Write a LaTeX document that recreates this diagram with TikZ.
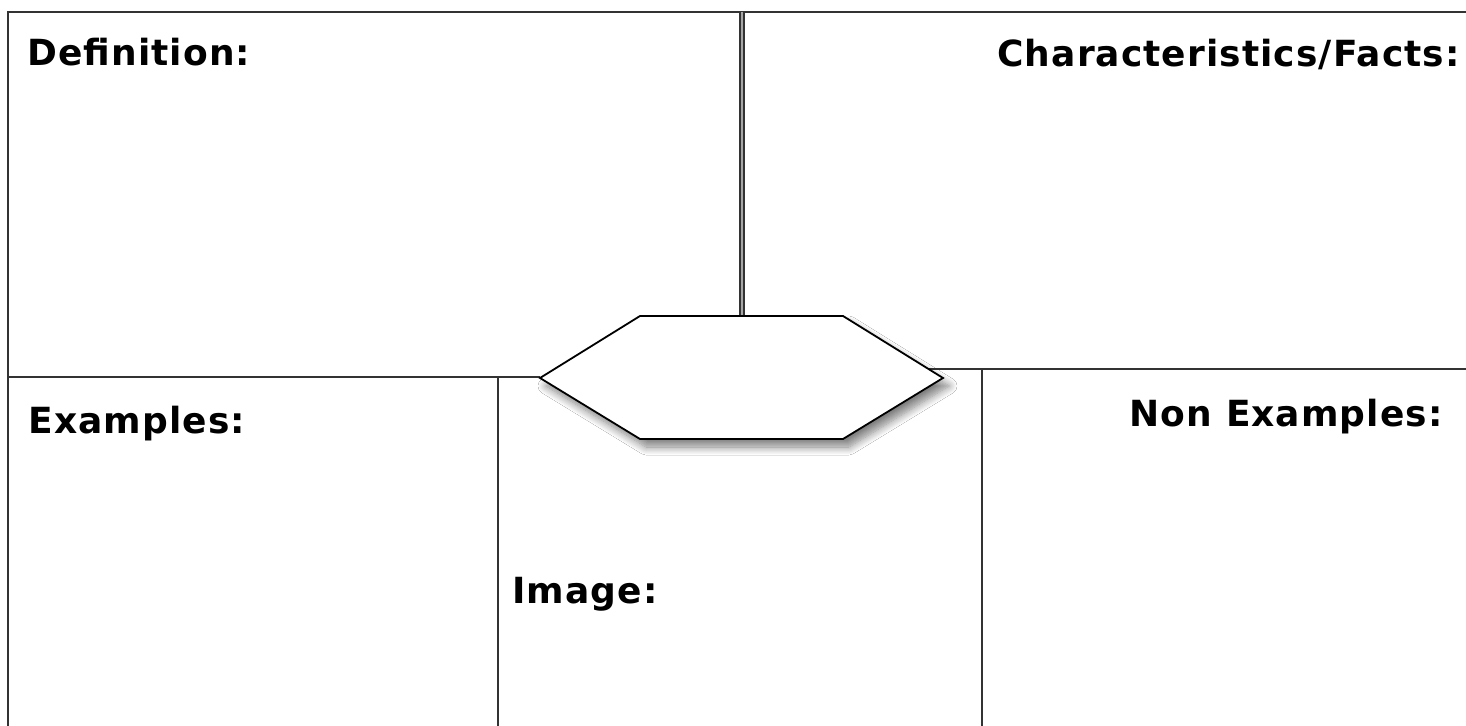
\documentclass[tikz,border=0pt]{standalone}
\usepackage{fontspec}
\newfontfamily\labfont[LetterSpace=3]{DejaVu Sans Bold}
\usetikzlibrary{shadows.blur}
\definecolor{linegray}{HTML}{333333}
\tikzset{
  rule/.style={draw=linegray, line width=1.3pt},
  doublerule/.style={draw=linegray, line width=0.9pt, double=gray!70, double distance=0.8pt},
  label/.style={inner sep=0pt, font=\labfont\fontsize{18pt}{21pt}\selectfont},
  hexa/.style={draw=black, line width=0.9pt, fill=white,
    blur shadow={shadow xshift=3pt, shadow yshift=-4pt, shadow blur steps=10, shadow blur radius=4pt, shadow opacity=50}}
}
\begin{document}
\begin{tikzpicture}[x=0.5pt, y=-0.5pt]
\useasboundingbox (0,0) rectangle (1466,726);
\fill[white] (0,0) rectangle (1466,726);
% corner coordinates
\coordinate (tl) at (8,12);
\coordinate (tr) at (1466,12);
\coordinate (bl) at (8,726);
\coordinate (dtop) at (742,12);
\coordinate (dbot) at (742,316);
\coordinate (lmidL) at (8,377);
\coordinate (lmidR) at (540,377);
\coordinate (v1top) at (498,377);
\coordinate (v1bot) at (498,726);
\coordinate (rmidL) at (900,369);
\coordinate (rmidR) at (1466,369);
\coordinate (v2top) at (982,369);
\coordinate (v2bot) at (982,726);
% frame
\draw[rule] (bl) -- (tl) -- (tr);
\draw[doublerule] (dtop) -- (dbot);
\draw[rule] (lmidL) -- (lmidR);
\draw[rule] (v1top) -- (v1bot);
\draw[rule] (rmidL) -- (rmidR);
\draw[rule] (v2top) -- (v2bot);
% hexagon
\coordinate (h1) at (540,378);
\coordinate (h2) at (640,316);
\coordinate (h3) at (843,316);
\coordinate (h4) at (943,378);
\coordinate (h5) at (843,439);
\coordinate (h6) at (640,439);
\draw[hexa] (h1) -- (h2) -- (h3) -- (h4) -- (h5) -- (h6) -- cycle;
% labels
\node[label, anchor=base west] (def) at (27,66) {Definition:};
\node[label, anchor=base east] (char) at (1460,67) {Characteristics/Facts:};
\node[label, anchor=base west] (ex) at (28,434) {Examples:};
\node[label, anchor=base east] (nonex) at (1443,427) {Non Examples:};
\node[label, anchor=base west] (img) at (512,603) {Image:};
\end{tikzpicture}
\end{document}
